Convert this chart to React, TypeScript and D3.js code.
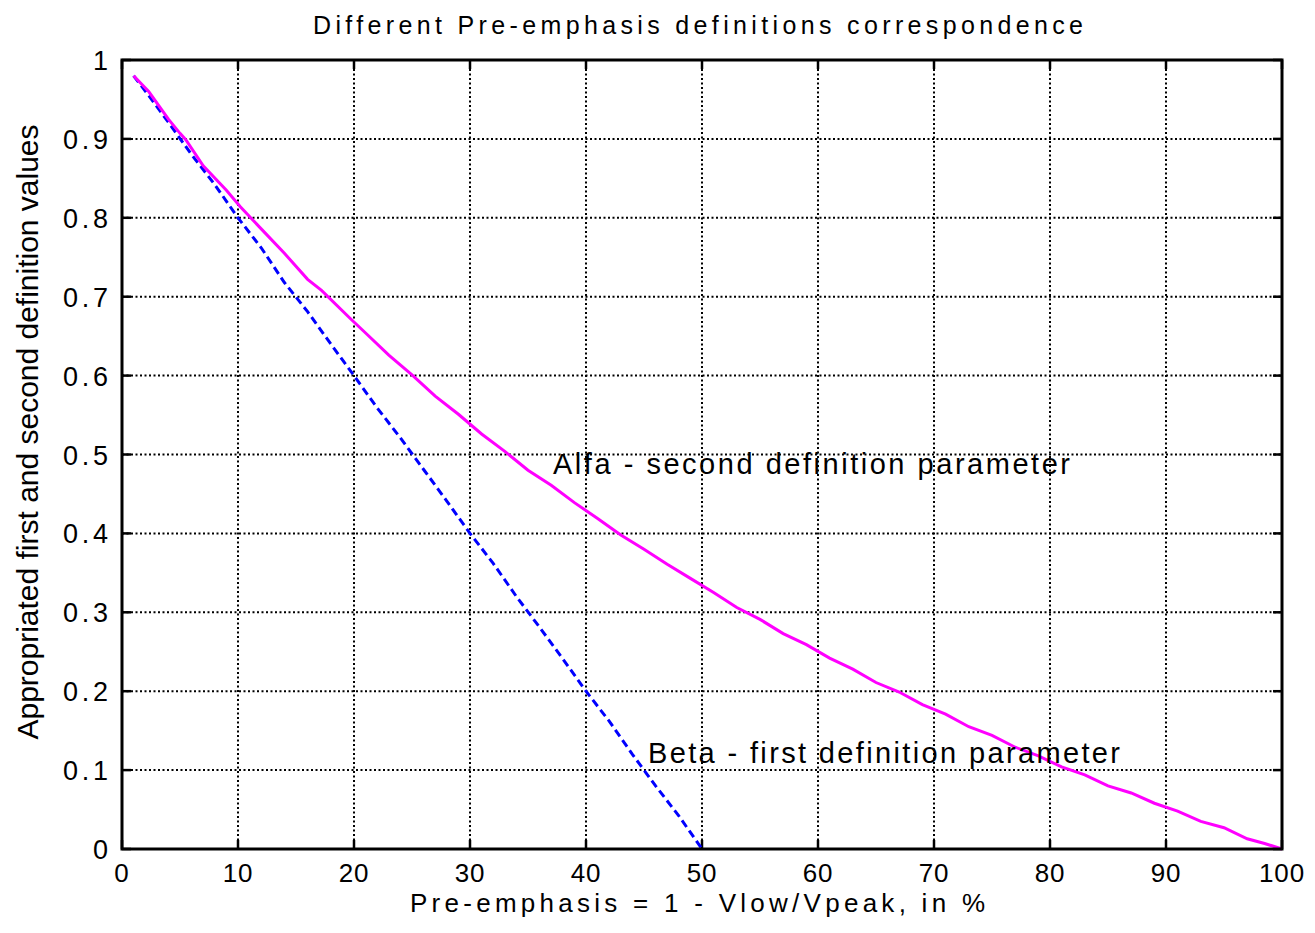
import React from "react";
import * as d3 from "d3";

const alfaX = [1, 2.3, 4, 5, 5.5, 7, 9, 10.2, 12, 14, 16, 17.2, 19.7, 21, 23, 25, 27, 29, 31, 33, 35, 37, 39, 41, 43, 45, 47, 49, 51, 53, 55, 57, 59, 61, 63, 65, 67, 69, 71, 73, 75, 77, 79, 81, 83, 85, 87, 89, 91, 93, 95, 97, 98.5, 100];
const alfaY = [0.98, 0.96, 0.925, 0.907, 0.899, 0.866, 0.835, 0.814, 0.786, 0.755, 0.722, 0.708, 0.672, 0.654, 0.626, 0.601, 0.574, 0.551, 0.526, 0.504, 0.48, 0.461, 0.439, 0.419, 0.398, 0.38, 0.361, 0.343, 0.325, 0.306, 0.291, 0.273, 0.259, 0.242, 0.228, 0.211, 0.199, 0.183, 0.171, 0.155, 0.144, 0.129, 0.118, 0.104, 0.094, 0.08, 0.071, 0.058, 0.048, 0.035, 0.027, 0.013, 0.007, 0.0];
const betaX = [1, 2.3, 4, 6, 8, 10, 12, 14, 16, 18, 20, 22, 24, 26, 28, 30, 32, 34, 36, 38, 40, 42, 44, 46, 48, 50];
const betaY = [0.98, 0.955, 0.921, 0.88, 0.842, 0.8, 0.762, 0.718, 0.681, 0.64, 0.6, 0.559, 0.521, 0.481, 0.441, 0.4, 0.362, 0.32, 0.281, 0.241, 0.2, 0.162, 0.12, 0.08, 0.042, 0.0];
const xTicks = [0, 10, 20, 30, 40, 50, 60, 70, 80, 90, 100];
const yTicks = [0, 0.1, 0.2, 0.3, 0.4, 0.5, 0.6, 0.7, 0.8, 0.9, 1];
const yTickLabels = ["0", "0.1", "0.2", "0.3", "0.4", "0.5", "0.6", "0.7", "0.8", "0.9", "1"];

const W = 1315, H = 933;
const L = 122, R = 1282, T = 60, B = 849;
const FONT = "Arial, 'Liberation Sans', Helvetica, sans-serif";

export default function App() {
  const x = d3.scaleLinear().domain([0, 100]).range([L, R]);
  const y = d3.scaleLinear().domain([0, 1]).range([B, T]);
  const line = d3.line<[number, number]>().x(d => x(d[0])).y(d => y(d[1]));
  const alfa = alfaX.map((v, i) => [v, alfaY[i]] as [number, number]);
  const beta = betaX.map((v, i) => [v, betaY[i]] as [number, number]);
  const tickLen = 9;
  return (
    <svg width={W} height={H} style={{ position: "absolute", left: 0, top: 0, background: "#fff" }} fontFamily={FONT}>
      <rect x={0} y={0} width={W} height={H} fill="#fff" />
      {/* grid */}
      {xTicks.slice(1, -1).map(t => (
        <line key={"gx" + t} x1={x(t)} x2={x(t)} y1={T} y2={B} stroke="#000" strokeWidth={2} strokeDasharray="2,2.5" />
      ))}
      {yTicks.slice(1, -1).map(t => (
        <line key={"gy" + t} x1={L} x2={R} y1={y(t)} y2={y(t)} stroke="#000" strokeWidth={2} strokeDasharray="2,2.5" />
      ))}
      {/* ticks */}
      {xTicks.map(t => (
        <g key={"tx" + t}>
          <line x1={x(t)} x2={x(t)} y1={B} y2={B - tickLen} stroke="#000" strokeWidth={2.5} />
          <line x1={x(t)} x2={x(t)} y1={T} y2={T + tickLen} stroke="#000" strokeWidth={2.5} />
          <text x={x(t)} y={882} textAnchor="middle" fontSize={26} letterSpacing={0.8}>{t}</text>
        </g>
      ))}
      {yTicks.map((t, i) => (
        <g key={"ty" + t}>
          <line x1={L} x2={L + tickLen} y1={y(t)} y2={y(t)} stroke="#000" strokeWidth={2.5} />
          <line x1={R} x2={R - tickLen} y1={y(t)} y2={y(t)} stroke="#000" strokeWidth={2.5} />
          <text x={108} y={y(t) + 10} textAnchor="end" fontSize={27}
            {...(yTickLabels[i].length > 1 ? { textLength: 45, lengthAdjust: "spacing" } : {})}>{yTickLabels[i]}</text>
        </g>
      ))}
      {/* curves */}
      <path d={line(beta) || ""} fill="none" stroke="#0000ff" strokeWidth={3} strokeDasharray="8,4.5" />
      <path d={line(alfa) || ""} fill="none" stroke="#ff00ff" strokeWidth={3} />
      {/* frame */}
      <rect x={L} y={T} width={R - L} height={B - T} fill="none" stroke="#000" strokeWidth={3} />
      {/* annotations */}
      <text x={553} y={474} fontSize={29} textLength={517} lengthAdjust="spacing">Alfa - second definition parameter</text>
      <text x={648} y={763} fontSize={29} textLength={472} lengthAdjust="spacing">Beta - first definition parameter</text>
      {/* titles */}
      <text x={313} y={34} fontSize={25} textLength={770} lengthAdjust="spacing">Different Pre-emphasis definitions correspondence</text>
      <text x={410} y={912} fontSize={26} textLength={575} lengthAdjust="spacing">Pre-emphasis = 1 - Vlow/Vpeak, in %</text>
      <text transform={`translate(38,432) rotate(-90)`} textAnchor="middle" fontSize={30} textLength={615} lengthAdjust="spacingAndGlyphs">Appropriated first and second definition values</text>
    </svg>
  );
}
